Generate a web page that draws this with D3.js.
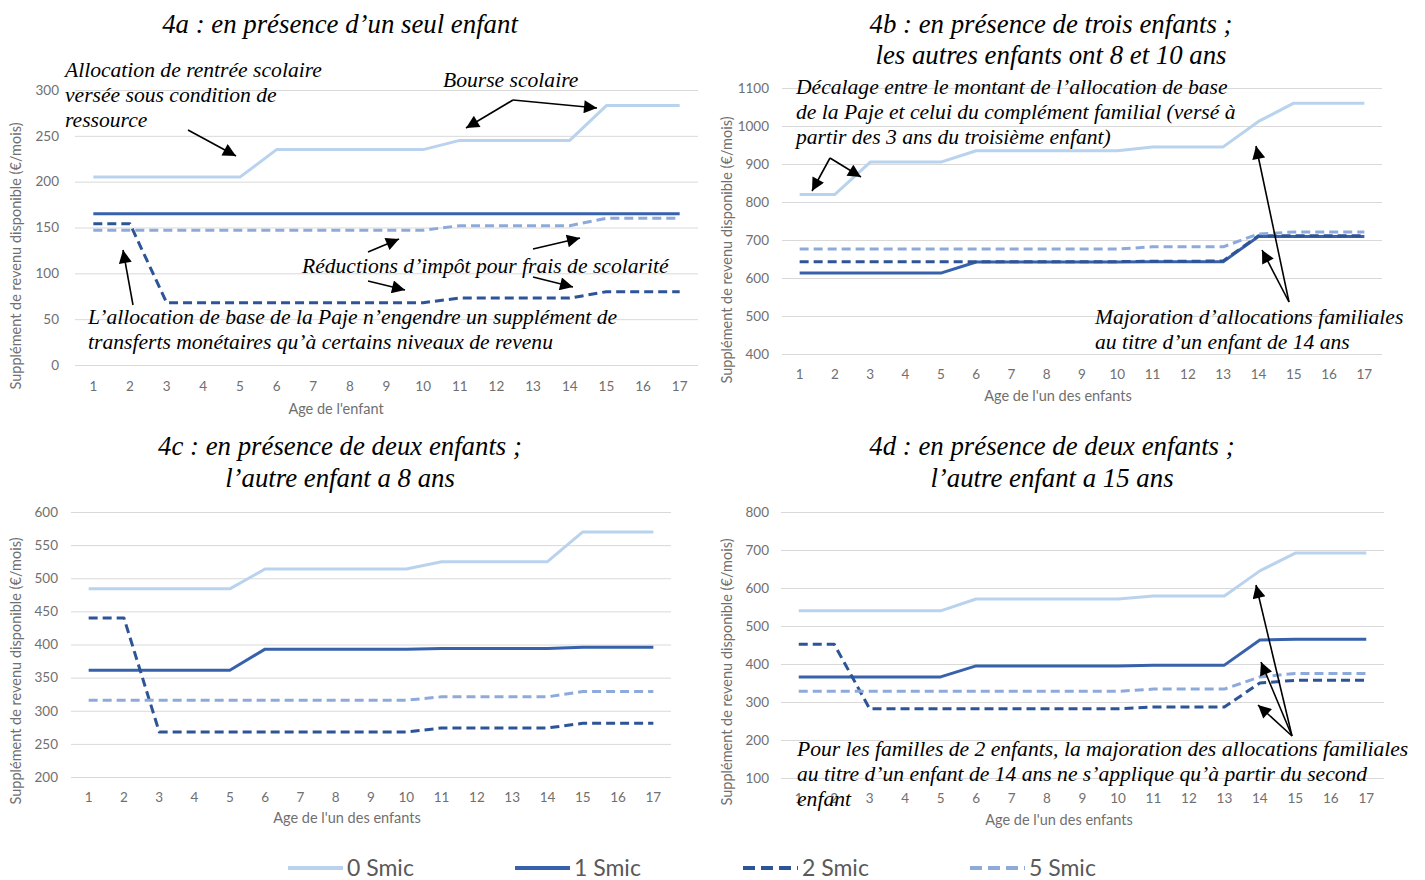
<!DOCTYPE html>
<html><head><meta charset="utf-8">
<script src="https://cdn.jsdelivr.net/npm/d3@7"></script>
<style>body{margin:0;background:#fff}svg{display:block}</style>
</head><body>
<svg id="chart" width="1425" height="880"></svg>
<script>
// ---------- DATA ----------
const ages = [1,2,3,4,5,6,7,8,9,10,11,12,13,14,15,16,17];
const seriesNames = ["0 Smic","1 Smic","2 Smic","5 Smic"];

// 4a : un seul enfant
const a_0smic = [205,205,205,205,205,235,235,235,235,235,245,245,245,245,283,283,283];
const a_1smic = [165,165,165,165,165,165,165,165,165,165,165,165,165,165,165,165,165];
const a_2smic = [154,154,68,68,68,68,68,68,68,68,73,73,73,73,80,80,80];
const a_5smic = [147,147,147,147,147,147,147,147,147,147,152,152,152,152,160,160,160];

// 4b : trois enfants (8 et 10 ans)
const b_0smic = [820,820,905,905,905,935,935,935,935,935,945,945,945,1012,1060,1060,1060];
const b_1smic = [613,613,613,613,613,642,642,642,642,642,643,643,643,709,709,709,709];
const b_2smic = [643,643,643,643,643,643,643,643,643,643,644,644,645,711,711,711,711];
const b_5smic = [676,676,676,676,676,676,676,676,676,676,682,682,682,716,721,721,721];

// 4c : deux enfants (l'autre a 8 ans)
const c_0smic = [484,484,484,484,484,514,514,514,514,514,525,525,525,525,570,570,570];
const c_1smic = [361,361,361,361,361,393,393,393,393,393,394,394,394,394,396,396,396];
const c_2smic = [440,440,268,268,268,268,268,268,268,268,274,274,274,274,281,281,281];
const c_5smic = [316,316,316,316,316,316,316,316,316,316,321,321,321,321,329,329,329];

// 4d : deux enfants (l'autre a 15 ans)
const d_0smic = [540,540,540,540,540,571,571,571,571,571,579,579,579,645,692,692,692];
const d_1smic = [366,366,366,366,366,395,395,395,395,395,397,397,397,463,465,465,465];
const d_2smic = [452,452,282,282,282,282,282,282,282,282,287,287,287,350,357,357,357];
const d_5smic = [328,328,328,328,328,328,328,328,328,328,334,334,334,366,375,375,375];

const yTicksA = [0,50,100,150,200,250,300];
const yTicksB = [400,500,600,700,800,900,1000,1100];
const yTicksC = [200,250,300,350,400,450,500,550,600];
const yTicksD = [100,200,300,400,500,600,700,800];

// ---------- STYLES ----------
const seriesStyle = [
  {color:"#b9d3ee", width:3, dash:null},
  {color:"#3762ab", width:3, dash:null},
  {color:"#2c5496", width:3, dash:"9,5"},
  {color:"#8eaadb", width:3, dash:"9,5"}
];

const panels = [
  {series:[a_0smic,a_1smic,a_2smic,a_5smic], ticks:yTicksA, xr:[75,698], yr:[365,90],
   yLabRight:59, xLabY:386, yTitle:[16,256], xTitle:"Age de l'enfant", xTitlePos:[336,409],
   title:["4a : en présence d’un seul enfant"], titlePos:[340,[33]]},
  {series:[b_0smic,b_1smic,b_2smic,b_5smic], ticks:yTicksB, xr:[782,1382], yr:[354,88],
   yLabRight:769, xLabY:374, yTitle:[727,250], xTitle:"Age de l'un des enfants", xTitlePos:[1058,396],
   title:["4b : en présence de trois enfants ;","les autres enfants ont 8 et 10 ans"], titlePos:[1051,[33,64]]},
  {series:[c_0smic,c_1smic,c_2smic,c_5smic], ticks:yTicksC, xr:[71,671], yr:[777,512],
   yLabRight:58, xLabY:797, yTitle:[16,671], xTitle:"Age de l'un des enfants", xTitlePos:[347,818],
   title:["4c : en présence de deux enfants ;","l’autre enfant a 8 ans"], titlePos:[340,[455,487]]},
  {series:[d_0smic,d_1smic,d_2smic,d_5smic], ticks:yTicksD, xr:[781,1384], yr:[778,512],
   yLabRight:769, xLabY:798, yTitle:[727,672], xTitle:"Age de l'un des enfants", xTitlePos:[1059,820],
   title:["4d : en présence de deux enfants ;","l’autre enfant a 15 ans"], titlePos:[1052,[455,487]]}
];

// annotations (layout, pixel positions)
const notes = [
  {x:65, y:77, lines:["Allocation de rentrée scolaire","versée sous condition de","ressource"]},
  {x:443, y:87, lines:["Bourse scolaire"]},
  {x:302, y:273, lines:["Réductions d’impôt pour frais de scolarité"]},
  {x:88, y:324, lines:["L’allocation de base de la Paje n’engendre un supplément de","transferts monétaires qu’à certains niveaux de revenu"]},
  {x:796, y:94, lines:["Décalage entre le montant de l’allocation de base","de la Paje et celui du complément familial (versé à","partir des 3 ans du troisième enfant)"]},
  {x:1095, y:324, lines:["Majoration d’allocations familiales","au titre d’un enfant de 14 ans"]},
  {x:797, y:756, lines:["Pour les familles de 2 enfants, la majoration des allocations familiales","au titre d’un enfant de 14 ans ne s’applique qu’à partir du second","enfant"]}
];
const arrows = [
  [188,130,236,156],
  [513,100,466,128],[513,100,597,108],
  [368,252,399,239],[533,249,580,238],
  [368,281,405,290],[533,277,573,287],
  [133,305,123,250],
  [830,158,812,191],[830,158,861,177],
  [1289,302,1256,146],[1289,302,1262,250],
  [1292,736,1256,585],[1292,736,1261,662],[1292,736,1258,705]
];

// ---------- DRAW ----------
const svg = d3.select("#chart");
const defs = svg.append("defs");
defs.append("marker").attr("id","ah").attr("viewBox","0 0 10 10")
  .attr("refX",10).attr("refY",5).attr("markerUnits","userSpaceOnUse")
  .attr("markerWidth",16).attr("markerHeight",13).attr("orient","auto")
  .append("path").attr("d","M0,0 L10,5 L0,10 Z").attr("fill","#000");

const tickFont = "Lato, 'Open Sans', sans-serif";
const serif = "'Liberation Serif', 'DejaVu Serif', serif";
const gray = "#6f6f6f";

panels.forEach(p => {
  const g = svg.append("g");
  const x = d3.scaleBand().domain(ages).range(p.xr);
  const y = d3.scaleLinear().domain([p.ticks[0], p.ticks[p.ticks.length-1]]).range(p.yr);
  const cx = a => x(a) + x.bandwidth()/2;

  const yAxis = d3.axisLeft(y).tickValues(p.ticks).tickFormat(d3.format("d"))
    .tickSize(-(p.xr[1]-p.xr[0])).tickPadding(p.xr[0]-p.yLabRight);
  const ya = g.append("g").attr("transform",`translate(${p.xr[0]},0)`).call(yAxis);
  ya.select(".domain").remove();
  ya.selectAll(".tick line").attr("stroke","#d9d9d9").attr("stroke-width",1);
  ya.selectAll(".tick text").attr("fill",gray).style("font-family",tickFont).style("font-size","13.5px");

  const xAxis = d3.axisBottom(x).tickSize(0).tickPadding(0);
  const xa = g.append("g").attr("transform",`translate(0,${p.xLabY})`).call(xAxis);
  xa.select(".domain").remove();
  xa.selectAll(".tick text").attr("fill",gray).attr("dy","0.35em").style("font-family",tickFont).style("font-size","13.5px");

  g.append("text").attr("transform",`translate(${p.yTitle[0]},${p.yTitle[1]}) rotate(-90)`)
    .attr("text-anchor","middle").attr("dy","0.35em").attr("fill",gray)
    .style("font-family",tickFont).style("font-size","14.5px").text("Supplément de revenu disponible (€/mois)");
  g.append("text").attr("x",p.xTitlePos[0]).attr("y",p.xTitlePos[1]).attr("text-anchor","middle")
    .attr("dy","0.35em").attr("fill",gray).style("font-family",tickFont).style("font-size","14.5px").text(p.xTitle);

  const line = d3.line().x((d,i)=>cx(ages[i])).y(d=>y(d));
  p.series.forEach((s,k) => {
    const st = seriesStyle[k];
    g.append("path").datum(s).attr("d",line).attr("fill","none")
      .attr("stroke",st.color).attr("stroke-width",st.width)
      .attr("stroke-dasharray",st.dash).attr("stroke-linejoin","round");
  });

  p.title.forEach((t,i) => {
    svg.append("text").attr("x",p.titlePos[0]).attr("y",p.titlePos[1][i]).attr("text-anchor","middle")
      .style("font-family",serif).style("font-style","italic").style("font-size","26.8px").attr("fill","#000").text(t);
  });
});

notes.forEach(n => {
  n.lines.forEach((l,i) => {
    svg.append("text").attr("x",n.x).attr("y",n.y+i*25)
      .style("font-family",serif).style("font-style","italic").style("font-size","21.6px").attr("fill","#000").text(l);
  });
});
arrows.forEach(a => {
  svg.append("line").attr("x1",a[0]).attr("y1",a[1]).attr("x2",a[2]).attr("y2",a[3])
    .attr("stroke","#000").attr("stroke-width",1.6).attr("marker-end","url(#ah)");
});

const legX = [288,515,743,970];
seriesNames.forEach((nm,k) => {
  const st = seriesStyle[k];
  const lg = svg.append("g").attr("transform",`translate(${legX[k]},868)`);
  lg.append("line").attr("x1",0).attr("x2",55).attr("y1",0).attr("y2",0)
    .attr("stroke",st.color).attr("stroke-width",4).attr("stroke-dasharray",st.dash ? "12,6" : null);
  lg.append("text").attr("x",59).attr("y",0).attr("dy","0.35em").attr("fill","#595959")
    .style("font-family",tickFont).style("font-size","23px").text(nm);
});
</script>
</body></html>
